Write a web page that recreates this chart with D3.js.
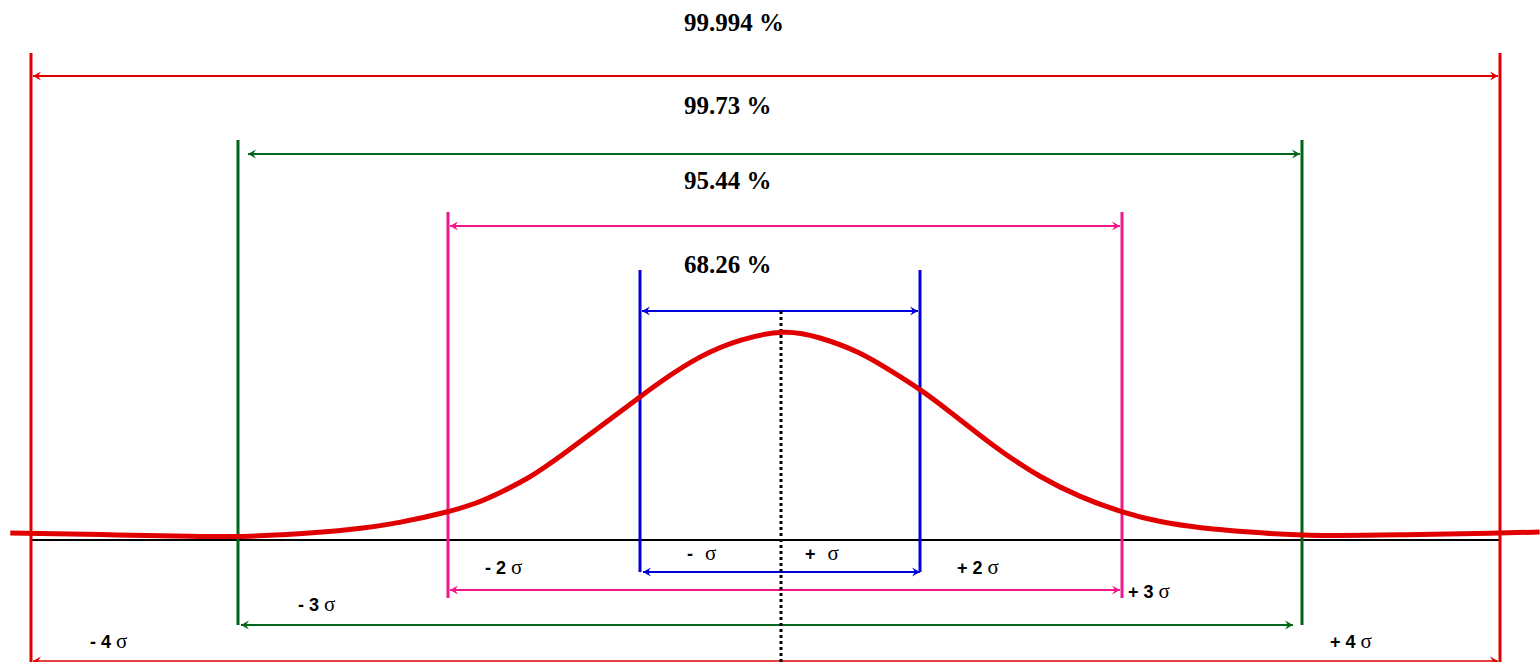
<!DOCTYPE html>
<html>
<head>
<meta charset="utf-8">
<script src="https://cdn.jsdelivr.net/npm/d3@7"></script>
<style>
  html, body { margin: 0; padding: 0; background: #fff; }
  svg { display: block; }
</style>
</head>
<body>
<svg width="1540" height="662"></svg>
<script>
// sigma positions along the axis
const sigmaTicks = [-4, -3, -2, -1, 0, 1, 2, 3, 4];
// bands: k sigma -> share of values inside
const bandLevels = [1, 2, 3, 4];
const bandLabels = ["68.26 %", "95.44 %", "99.73 %", "99.994 %"];
// labels under the axis
const sigmaValues = [-4, -3, -2, -1, 1, 2, 3, 4];
const sigmaSigns = ["- 4", "- 3", "- 2", "-", "+", "+ 2", "+ 3", "+ 4"];
// curve (x in sigma, y as density)
const curveX = [-4.1, -3.67, -3.18, -3, -2.7, -2.47, -2.23, -2, -1.86, -1.73, -1.57, -1.495, -1.42, -1.21, -1, -0.86, -0.57, -0.29, 0.03,
  0.28, 0.57, 0.78, 1, 1.15, 1.3, 1.4, 1.59, 1.79, 2.01, 2.21, 2.43, 2.71, 3, 3.49, 4, 4.2];
const curveY = [0.0134, 0.0105, 0.0067, 0.0057, 0.0115, 0.019, 0.0325, 0.0536, 0.0689, 0.09, 0.1206, 0.1397, 0.1589, 0.2163, 0.2737, 0.3024, 0.354, 0.3847, 0.403,
  0.3885, 0.3598, 0.3254, 0.289, 0.245, 0.199, 0.17, 0.1206, 0.0823, 0.0517, 0.0344, 0.023, 0.015, 0.0077, 0.0096, 0.0134, 0.0153];

const bandColors = {1: "#0000dd", 2: "#f0168c", 3: "#006619", 4: "#e00000"};
// layout for each band: vertical line top/bottom, upper and lower arrow y, arrow tip insets
const bandLayout = {
  1: {top: 270, bottom: 572, arrowTop: 311, arrowBottom: 572, insetTop: [2, 2], insetBottom: [3, 0]},
  2: {top: 212, bottom: 598, arrowTop: 226, arrowBottom: 590, insetTop: [2, 2], insetBottom: [2, 2]},
  3: {top: 140, bottom: 625, arrowTop: 154, arrowBottom: 625, insetTop: [10, 2], insetBottom: [3, 9]},
  4: {top: 53, bottom: 662, arrowTop: 76, arrowBottom: 661, insetTop: [2, 2], insetBottom: [2, 2]}
};
const textBaseline = {1: 273, 2: 189, 3: 114, 4: 31};
// sigma label placement: offset from the inner boundary, baseline
const labelLayout = {
  "-4": [59, 648], "-3": [60, 611], "-2": [37, 574], "-1": [47, 560],
  "1": [24, 560], "2": [37, 574], "3": [6, 598], "4": [28, 648]
};

const svg = d3.select("svg");

const x = d3.scaleLinear()
  .domain(sigmaTicks)
  .range([31, 238, 448, 640, 781, 920, 1122, 1302, 1500]);
const y = d3.scaleLinear().domain([0, 0.4]).range([540, 331]);

// arrow heads
const defs = svg.append("defs");
Object.entries(bandColors).forEach(([k, c]) => {
  defs.append("marker")
    .attr("id", "arr" + k)
    .attr("viewBox", "-9 -5 10 10")
    .attr("refX", 0).attr("refY", 0)
    .attr("markerWidth", 10).attr("markerHeight", 10)
    .attr("markerUnits", "userSpaceOnUse")
    .attr("orient", "auto-start-reverse")
    .append("path")
    .attr("d", "M-8,-4.5 L0,0 L-8,4.5 L-5,0 Z")
    .attr("fill", c);
});

// baseline
svg.append("line")
  .attr("x1", x(-4)).attr("x2", x(4))
  .attr("y1", y(0)).attr("y2", y(0))
  .attr("stroke", "#000").attr("stroke-width", 2);

// bands
bandLevels.forEach(k => {
  const L = bandLayout[k];
  const c = bandColors[k];
  const g = svg.append("g");
  [-k, k].forEach(s => {
    g.append("line")
      .attr("x1", x(s)).attr("x2", x(s))
      .attr("y1", L.top).attr("y2", L.bottom)
      .attr("stroke", c).attr("stroke-width", 3);
  });
  [[L.arrowTop, L.insetTop], [L.arrowBottom, L.insetBottom]].forEach(([ay, ins]) => {
    g.append("line")
      .attr("x1", x(-k) + ins[0]).attr("x2", x(k) - ins[1])
      .attr("y1", ay).attr("y2", ay)
      .attr("stroke", c)
      .attr("stroke-width", ay > 650 ? 1.5 : 2)
      .attr("marker-start", `url(#arr${k})`)
      .attr("marker-end", `url(#arr${k})`);
  });
});

// centre dotted line
svg.append("line")
  .attr("x1", x(0)).attr("x2", x(0))
  .attr("y1", bandLayout[1].arrowTop).attr("y2", 662)
  .attr("stroke", "#000").attr("stroke-width", 3)
  .attr("stroke-dasharray", "3,3");

// curve
const pts = curveX.map((v, i) => [v, curveY[i]]);
svg.append("path")
  .datum(pts)
  .attr("fill", "none")
  .attr("stroke", "#e00000")
  .attr("stroke-width", 5)
  .attr("d", d3.line().x(d => x(d[0])).y(d => y(d[1])).curve(d3.curveBasis));

// percentage labels
bandLevels.forEach((k, i) => {
  svg.append("text")
    .attr("x", x(0) - 97)
    .attr("y", textBaseline[k])
    .attr("font-family", "'Liberation Serif', 'Times New Roman', serif")
    .attr("font-weight", "bold")
    .attr("font-size", 25)
    .text(bandLabels[i]);
});

// sigma labels
sigmaValues.forEach((v, i) => {
  const inner = v < 0 ? v : v - 1;
  const [dx, by] = labelLayout[String(v)];
  const t = svg.append("text")
    .attr("x", x(inner) + dx)
    .attr("y", by);
  t.append("tspan")
    .attr("font-family", "'Liberation Sans Narrow', 'Liberation Sans', Arial, sans-serif")
    .attr("font-weight", "bold")
    .attr("font-size", 18)
    .text(sigmaSigns[i]);
  t.append("tspan")
    .attr("dx", Math.abs(v) === 1 ? 12 : 5)
    .attr("font-family", "'Liberation Serif', 'Times New Roman', serif")
    .attr("font-size", 21)
    .text("σ");
});
</script>
</body>
</html>
